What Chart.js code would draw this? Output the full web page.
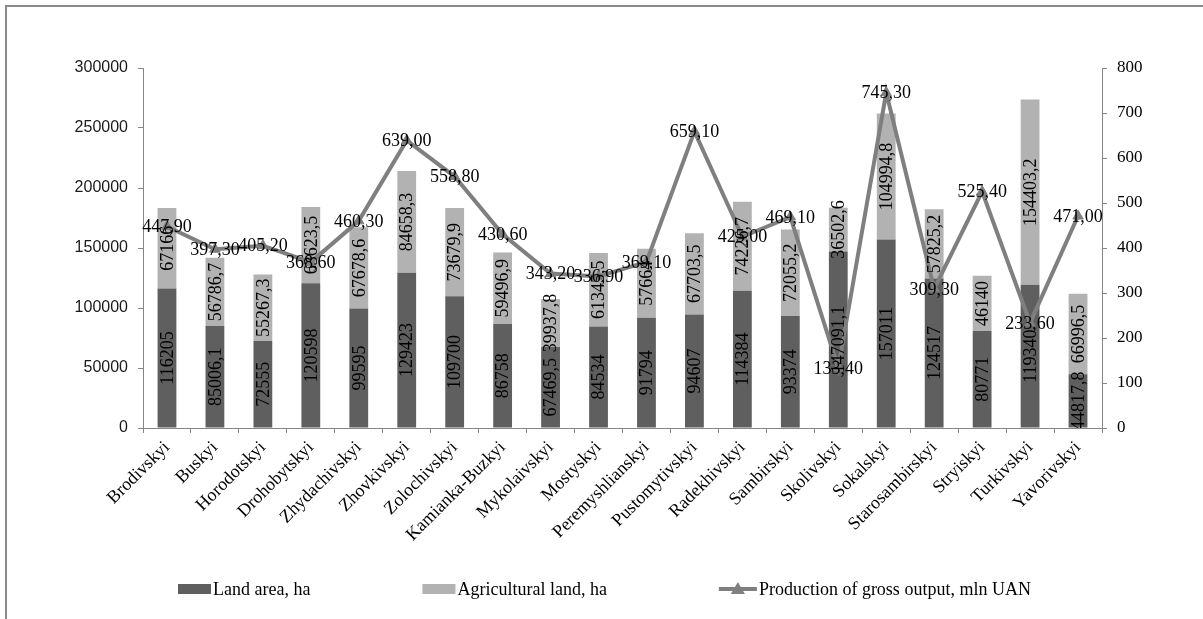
<!DOCTYPE html>
<html>
<head>
<meta charset="utf-8">
<title>Districts: land area, agricultural land and gross output</title>
<script src="https://cdn.jsdelivr.net/npm/chart.js@4/dist/chart.umd.min.js"></script>
<style>
  html, body { margin: 0; padding: 0; background: #ffffff; }
  canvas { display: block; }
</style>
</head>
<body>
<canvas id="chart" width="1203" height="619"></canvas>
<script>
// Districts along the category axis
const categories = [
  'Brodivskyi', 'Buskyi', 'Horodotskyi', 'Drohobytskyi', 'Zhydachivskyi',
  'Zhovkivskyi', 'Zolochivskyi', 'Kamianka-Buzkyi', 'Mykolaivskyi', 'Mostyskyi',
  'Peremyshlianskyi', 'Pustomytivskyi', 'Radekhivskyi', 'Sambirskyi', 'Skolivskyi',
  'Sokalskyi', 'Starosambirskyi', 'Stryiskyi', 'Turkivskyi', 'Yavorivskyi'
];

// Land area, ha (lower stacked bar)
const landArea = [
  116205, 85006.1, 72555, 120598, 99595,
  129423, 109700, 86758, 67469.5, 84534,
  91794, 94607, 114384, 93374, 147091.1,
  157011, 124517, 80771, 119340, 44817.8
];

// Agricultural land, ha (upper stacked bar)
const agriculturalLand = [
  67166, 56786.7, 55267.3, 63623.5, 67678.6,
  84658.3, 73679.9, 59496.9, 39937.8, 61345.5,
  57664, 67703.5, 74226.7, 72055.2, 36502.6,
  104994.8, 57825.2, 46140, 154403.2, 66996.5
];

// Production of gross output, mln UAN (line, right axis)
const grossOutput = [
  447.90, 397.30, 405.20, 368.60, 460.30,
  639.00, 558.80, 430.60, 343.20, 336.90,
  369.10, 659.10, 425.00, 469.10, 133.40,
  745.30, 309.30, 525.40, 233.60, 471.00
];

const seriesNames = ['Land area, ha', 'Agricultural land, ha', 'Production of gross output, mln UAN'];

const AXIS_GREY = '#868686';
const DARK = '#5f5f5f';
const LIGHT = '#b2b2b2';
const LINE = '#7f7f7f';
const SERIF = '"Liberation Serif", "Times New Roman", serif';
const SANS = '"Liberation Sans", Arial, sans-serif';

const barText = v => String(v).replace('.', ',');
const lineText = v => v.toFixed(2).replace('.', ',');

// Outer frame of the chart panel
const framePlugin = {
  id: 'frame',
  beforeDraw(chart) {
    const ctx = chart.ctx;
    ctx.save();
    ctx.fillStyle = '#ffffff';
    ctx.fillRect(0, 0, chart.width, chart.height);
    ctx.strokeStyle = '#8a8a8a';
    ctx.lineWidth = 2;
    ctx.beginPath();
    ctx.moveTo(6, chart.height + 2);
    ctx.lineTo(6, 6);
    ctx.lineTo(chart.width + 2, 6);
    ctx.stroke();
    ctx.restore();
  }
};

// Value labels: rotated inside bar segments, centred on line points
const valueLabelPlugin = {
  id: 'valueLabels',
  afterDatasetsDraw(chart) {
    const ctx = chart.ctx;
    const area = chart.chartArea;
    ctx.save();
    ctx.beginPath();
    // bottom edge clips bar labels at the axis; sides leave room for end labels
    ctx.rect(area.left - 10, area.top - 20, area.right - area.left + 20, area.bottom - area.top + 20);
    ctx.clip();
    ctx.font = '18px ' + SERIF;
    ctx.fillStyle = '#000000';
    ctx.textAlign = 'center';
    ctx.textBaseline = 'middle';
    chart.data.datasets.forEach((ds, di) => {
      if (ds.type === 'line') return;
      const meta = chart.getDatasetMeta(di);
      meta.data.forEach((el, i) => {
        const p = el.getProps(['x', 'y', 'base'], true);
        const cy = (p.y + p.base) / 2;
        ctx.save();
        ctx.beginPath();
        ctx.rect(area.left, area.top, area.right - area.left, area.bottom - area.top);
        ctx.clip();
        ctx.translate(p.x, cy);
        ctx.rotate(-Math.PI / 2);
        ctx.fillText(barText(ds.data[i]), 0, 1);
        ctx.restore();
      });
    });
    chart.data.datasets.forEach((ds, di) => {
      if (ds.type !== 'line') return;
      const meta = chart.getDatasetMeta(di);
      meta.data.forEach((el, i) => {
        const p = el.getProps(['x', 'y'], true);
        ctx.fillText(lineText(ds.data[i]), p.x, p.y + 1);
      });
    });
    ctx.restore();
  }
};

// Legend row under the axis labels
const legendRowPlugin = {
  id: 'legendRow',
  afterDraw(chart) {
    const ctx = chart.ctx;
    const y = 589;
    const gap = 112;
    let x = 178;
    ctx.save();
    ctx.font = '18px ' + SERIF;
    ctx.textBaseline = 'middle';
    ctx.textAlign = 'left';
    chart.data.datasets.forEach(ds => {
      if (ds.type === 'line') {
        ctx.strokeStyle = ds.borderColor;
        ctx.lineWidth = 4;
        ctx.beginPath();
        ctx.moveTo(x, y);
        ctx.lineTo(x + 38, y);
        ctx.stroke();
        ctx.fillStyle = ds.borderColor;
        ctx.beginPath();
        ctx.moveTo(x + 19, y - 7);
        ctx.lineTo(x + 26, y + 5);
        ctx.lineTo(x + 12, y + 5);
        ctx.closePath();
        ctx.fill();
        x += 40;
      } else {
        ctx.fillStyle = ds.backgroundColor;
        ctx.fillRect(x, y - 5, 33, 10);
        x += 35;
      }
      ctx.fillStyle = '#000000';
      ctx.fillText(ds.label, x, y + 1);
      x += ctx.measureText(ds.label).width + gap;
    });
    ctx.restore();
  }
};

new Chart(document.getElementById('chart'), {
  data: {
    labels: categories,
    datasets: [
      {
        type: 'bar',
        label: seriesNames[0],
        data: landArea,
        backgroundColor: DARK,
        yAxisID: 'y',
        order: 1,
        categoryPercentage: 0.8,
        barPercentage: 0.49
      },
      {
        type: 'bar',
        label: seriesNames[1],
        data: agriculturalLand,
        backgroundColor: LIGHT,
        yAxisID: 'y',
        order: 1,
        categoryPercentage: 0.8,
        barPercentage: 0.49
      },
      {
        type: 'line',
        label: seriesNames[2],
        data: grossOutput,
        yAxisID: 'y1',
        order: 0,
        borderColor: LINE,
        backgroundColor: LINE,
        borderWidth: 4,
        tension: 0,
        pointStyle: 'triangle',
        pointRadius: 6,
        pointBackgroundColor: LINE,
        pointBorderColor: LINE,
        pointBorderWidth: 1
      }
    ]
  },
  options: {
    responsive: false,
    devicePixelRatio: 1,
    animation: false,
    layout: { padding: { top: 68, left: 0, right: 0, bottom: 0 } },
    plugins: {
      legend: { display: false },
      tooltip: { enabled: false }
    },
    scales: {
      x: {
        stacked: true,
        offset: true,
        grid: {
          display: true,
          offset: true,
          drawOnChartArea: false,
          drawTicks: true,
          tickLength: 5,
          color: AXIS_GREY
        },
        border: { display: true, color: AXIS_GREY, width: 1 },
        ticks: {
          autoSkip: false,
          minRotation: 45,
          maxRotation: 45,
          padding: 4,
          color: '#000000',
          font: { family: SERIF, size: 18 }
        },
        afterFit(scale) { scale.height = 191; }
      },
      y: {
        stacked: true,
        position: 'left',
        min: 0,
        max: 300000,
        grid: {
          drawOnChartArea: false,
          drawTicks: true,
          tickLength: 5,
          color: AXIS_GREY
        },
        border: { display: true, color: AXIS_GREY, width: 1 },
        ticks: {
          stepSize: 50000,
          padding: 10,
          color: '#1a1a1a',
          font: { family: SANS, size: 16 },
          callback: v => String(v)
        },
        afterFit(scale) { scale.width = 143; }
      },
      y1: {
        position: 'right',
        min: 0,
        max: 800,
        grid: {
          drawOnChartArea: false,
          drawTicks: true,
          tickLength: 5,
          color: AXIS_GREY
        },
        border: { display: true, color: AXIS_GREY, width: 1 },
        ticks: {
          stepSize: 100,
          padding: 10,
          color: '#000000',
          font: { family: SERIF, size: 17 },
          callback: v => String(v)
        },
        afterFit(scale) { scale.width = 101; }
      }
    }
  },
  plugins: [framePlugin, valueLabelPlugin, legendRowPlugin]
});
</script>
</body>
</html>
